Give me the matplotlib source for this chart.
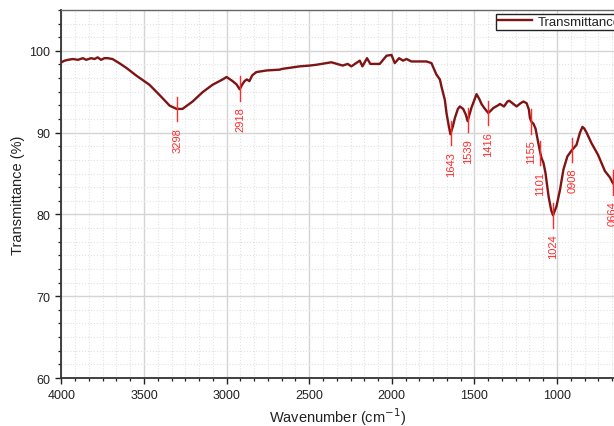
## FTIR transmittance spectrum with marked absorption bands

import numpy as np
import matplotlib.pyplot as plt
from matplotlib.ticker import MultipleLocator, AutoMinorLocator

# spectrum (wavenumber in cm-1, transmittance in %)
wavenumber = [4000, 3980, 3960, 3930, 3900, 3870, 3850, 3820, 3800, 3780, 3760, 3740, 3720, 3691,
              3650, 3606, 3545, 3467, 3406, 3345, 3303, 3267, 3206, 3145, 3085, 3024, 3000,
              2964, 2940, 2921, 2905, 2891, 2878, 2862, 2845, 2820, 2758, 2679, 2661, 2558,
              2497, 2455, 2366, 2297, 2267, 2245, 2194, 2178, 2150, 2130, 2073, 2032, 2002,
              1982, 1956, 1932, 1911, 1881, 1790, 1760, 1730, 1709, 1699, 1679, 1669, 1655,
              1645, 1630, 1618, 1600, 1588, 1568, 1552, 1541, 1530, 1517, 1500, 1487, 1470,
              1457, 1440, 1416, 1400, 1386, 1360, 1345, 1321, 1300, 1289, 1270, 1245, 1220,
              1204, 1184, 1170, 1164, 1154, 1143, 1130, 1113, 1101, 1094, 1082, 1070, 1051,
              1035, 1024, 1003, 982, 961, 937, 912, 895, 882, 861, 846, 835, 821, 791, 752,
              710, 679, 664, 650]
transmittance = [98.6, 98.8, 98.9, 99.0, 98.9, 99.1, 98.9, 99.1, 99.0, 99.2, 98.9, 99.1, 99.1, 99.0,
                 98.5, 97.9, 96.95, 95.85, 94.6, 93.3, 92.9, 92.9, 93.8, 94.95, 95.85, 96.5, 96.8,
                 96.3, 95.9, 95.3, 95.9, 96.3, 96.5, 96.3, 97.0, 97.4, 97.6, 97.7, 97.8, 98.1,
                 98.2, 98.3, 98.6, 98.2, 98.4, 98.1, 98.8, 98.1, 99.1, 98.4, 98.4, 99.4, 99.5,
                 98.5, 99.1, 98.8, 99.0, 98.7, 98.7, 98.5, 97.1, 96.5, 95.6, 94.0, 92.4, 90.8,
                 89.8, 90.8, 91.8, 92.9, 93.2, 92.9, 92.2, 91.4, 92.2, 93.1, 94.0, 94.7, 94.1,
                 93.5, 93.0, 92.4, 92.7, 93.0, 93.3, 93.5, 93.2, 93.8, 93.9, 93.6, 93.2, 93.6,
                 93.8, 93.6, 92.8, 91.8, 91.3, 91.1, 90.5, 88.7, 87.5, 86.9, 86.3, 85.1, 82.2,
                 80.5, 79.9, 81.0, 83.0, 85.5, 87.1, 87.8, 88.2, 88.5, 90.0, 90.7, 90.5, 90.0,
                 88.7, 87.3, 85.3, 84.5, 83.9, 83.5]

# marked bands
peak_positions = [3298, 2918, 1643, 1539, 1416, 1155, 1101, 1024, 908, 664]
peak_labels = ['3298', '2918', '1643', '1539', '1416', '1155', '1101', '1024', '0908', '0664']

line_color = '#7f1414'
peak_color = '#ff2b2b'

plt.rcParams.update({
    'font.family': ['Liberation Sans', 'DejaVu Sans'],
    'font.size': 9,
    'text.color': '#222222',
    'axes.labelcolor': '#222222',
    'xtick.color': '#222222',
    'ytick.color': '#222222',
})

fig = plt.figure(figsize=(6.14, 4.27), dpi=100)
ax = fig.add_axes([0.1, 0.1124, 0.9, 0.862])

ax.plot(wavenumber, transmittance, color=line_color, linewidth=1.7, label='Transmittance', zorder=3)

spec_x = np.array(wavenumber[::-1], dtype=float)
spec_y = np.array(transmittance[::-1], dtype=float)
for pos, lab in zip(peak_positions, peak_labels):
    yc = np.interp(pos, spec_x, spec_y)
    ax.plot([pos, pos], [yc - 1.5, yc + 1.5], color=peak_color, linewidth=1.0, zorder=4)
    ax.annotate(lab, xy=(pos, yc - 1.5), xytext=(0, -4), textcoords='offset points',
                rotation=90, ha='center', va='top', color=peak_color, fontsize=8,
                annotation_clip=False)

ax.set_xlim(4000, 655)
ax.set_ylim(60, 105)
ax.xaxis.set_major_locator(MultipleLocator(500))
ax.xaxis.set_minor_locator(AutoMinorLocator(6))
ax.yaxis.set_major_locator(MultipleLocator(10))
ax.yaxis.set_minor_locator(AutoMinorLocator(6))

ax.grid(which='major', color='#d4d4d4', linewidth=1.0, linestyle='-')
ax.grid(which='minor', color='#e2e2e2', linewidth=0.8, linestyle=':')
ax.set_axisbelow(True)

ax.tick_params(which='major', direction='out', length=4.5, width=1.0, labelsize=9)
ax.tick_params(which='minor', direction='out', length=2.5, width=0.9)

for side in ['left', 'bottom']:
    ax.spines[side].set_linewidth(1.3)
    ax.spines[side].set_color('#333333')
ax.spines['top'].set_linewidth(1.0)
ax.spines['top'].set_color('#666666')
ax.spines['right'].set_visible(False)

ax.set_xlabel('Wavenumber (cm$^{-1}$)', fontsize=10.5, labelpad=3)
ax.set_ylabel('Transmittance (%)', fontsize=10.5, labelpad=3)

leg = ax.legend(loc='upper left', bbox_to_anchor=(0.786, 0.99), fontsize=9.5,
                frameon=True, fancybox=False, edgecolor='#222222', framealpha=1,
                borderpad=0.15, handlelength=2.6, handletextpad=0.4, borderaxespad=0)
leg.get_frame().set_linewidth(1.0)

fig.savefig('out.png', dpi=100)
